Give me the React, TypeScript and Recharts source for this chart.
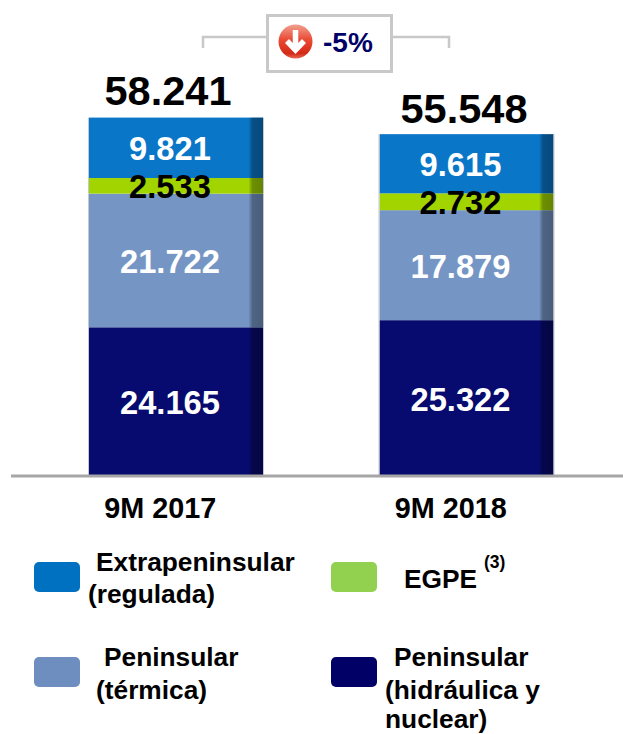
import React from 'react';
import { BarChart, Bar, XAxis, YAxis, LabelList } from 'recharts';

const periods = ['9M 2017', '9M 2018'];
const hidraulica = [24165, 25322];
const termica = [21722, 17879];
const egpe = [2533, 2732];
const extrapeninsular = [9821, 9615];
const totals = [58241, 55548];

const data = periods.map((period, i) => ({
  period,
  hidraulica: hidraulica[i],
  termica: termica[i],
  egpe: egpe[i],
  extrapeninsular: extrapeninsular[i],
}));

const FONT = '"Liberation Sans", Arial, sans-serif';

const fmt = (v: number) => v.toLocaleString('de-DE');

// bar with the darker strip on its right side
const ShadedBar = (props: any) => {
  const { x, y, width, height, fill } = props;
  return (
    <g>
      <rect x={x} y={y} width={width} height={height} fill={fill} />
      <rect x={x + width - 14} y={y} width={14} height={height} fill="url(#barStrip)" />
      <rect x={x - 1} y={y} width={1} height={height} fill="#c4c8d0" />
      <rect x={x + width} y={y} width={1} height={height} fill="#c4c8d0" />
    </g>
  );
};

const segmentLabel = (color: string) => (props: any) => {
  const { x, y, width, height, value } = props;
  return (
    <text
      x={x + width / 2 - 6}
      y={y + height / 2 + 12.5}
      textAnchor="middle"
      fontFamily={FONT}
      fontWeight="bold"
      fontSize={32.7}
      fill={color}
    >
      {fmt(value)}
    </text>
  );
};

const totalLabel = (props: any) => {
  const { x, y, width, index } = props;
  return (
    <text
      x={x + width / 2 - (index === 0 ? 8 : 2.5)}
      y={y - (index === 0 ? 13 : 11)}
      textAnchor="middle"
      fontFamily={FONT}
      fontWeight="bold"
      fontSize={41.5}
      fill="#000"
    >
      {fmt(totals[index])}
    </text>
  );
};

const PeriodTick = (props: any) => {
  const { x, y, payload } = props;
  return (
    <text
      x={x - 16}
      y={y + 34}
      textAnchor="middle"
      fontFamily={FONT}
      fontWeight="bold"
      fontSize={28.8}
      fill="#000"
    >
      {payload.value}
    </text>
  );
};

const legendItems = [
  { color: '#0070c0', x: 34, y: 562, lines: [['Extrapeninsular', 96, 571], ['(regulada)', 88, 603]] },
  { color: '#92d050', x: 331, y: 562, lines: [['EGPE', 404, 588]] },
  { color: '#6d8ebf', x: 34, y: 657, lines: [['Peninsular', 104, 666], ['(térmica)', 96, 699]] },
  { color: '#000066', x: 331, y: 657, lines: [['Peninsular', 394, 666], ['(hidráulica y', 385, 699], ['nuclear)', 385, 728]] },
];

const Overlay = () => (
  <svg width={623} height={734} style={{ position: 'absolute', left: 0, top: 0, pointerEvents: 'none' }}>
    <defs>
      <linearGradient id="redBall" x1="0" y1="0" x2="0" y2="1">
        <stop offset="0" stopColor="#f0a090" />
        <stop offset="0.45" stopColor="#ea4a35" />
        <stop offset="0.85" stopColor="#d42a18" />
        <stop offset="1" stopColor="#e86a55" />
      </linearGradient>
    </defs>
    <path d="M203 48V37H266M392 37H449V48" fill="none" stroke="#c8c8c8" strokeWidth={2.5} />
    <rect x={267.5} y={15.5} width={124} height={56} fill="#fff" stroke="#c8c8c8" strokeWidth={3} />
    <circle cx={295.5} cy={41.5} r={17} fill="url(#redBall)" />
    <path d="M295.5 30V50M287 41L295.5 50L304 41" fill="none" stroke="#fff" strokeWidth={5.5} />
    <text x={323} y={52} fontFamily={FONT} fontWeight="bold" fontSize={28} fill="#000066">-5%</text>
    {legendItems.map((item) => (
      <g key={item.color}>
        <rect x={item.x} y={item.y} width={46} height={30} rx={5} fill={item.color} />
        {item.lines.map(([text, x, y]) => (
          <text key={text as string} x={x as number} y={y as number} fontFamily={FONT} fontWeight="bold" fontSize={26.3} fill="#000">
            {text}
          </text>
        ))}
      </g>
    ))}
    <text x={484} y={568} fontFamily={FONT} fontWeight="bold" fontSize={17.5} fill="#000">(3)</text>
  </svg>
);

export default function App() {
  return (
    <div style={{ position: 'absolute', left: 0, top: 0, width: 623, height: 734 }}>
      <BarChart
        width={623}
        height={734}
        data={data}
        barSize={174}
        margin={{ top: 76, right: 0, bottom: 0, left: 11 }}
      >
        <defs>
          <linearGradient id="barStrip" x1="0" y1="0" x2="1" y2="0">
            <stop offset="0" stopColor="#000" stopOpacity={0.05} />
            <stop offset="0.25" stopColor="#000" stopOpacity={0.33} />
            <stop offset="1" stopColor="#000" stopOpacity={0.38} />
          </linearGradient>
        </defs>
        <XAxis
          dataKey="period"
          padding={{ left: 20, right: 11 }}
          height={258}
          axisLine={{ stroke: '#a6a6a6', strokeWidth: 3 }}
          tickLine={false}
          tick={<PeriodTick />}
          interval={0}
        />
        <YAxis hide domain={[0, 65000]} />
        <Bar dataKey="hidraulica" stackId="a" fill="#070a6e" isAnimationActive={false} shape={<ShadedBar />}>
          <LabelList dataKey="hidraulica" content={segmentLabel('#fff')} />
        </Bar>
        <Bar dataKey="termica" stackId="a" fill="#7596c4" isAnimationActive={false} shape={<ShadedBar />}>
          <LabelList dataKey="termica" content={segmentLabel('#fff')} />
        </Bar>
        <Bar dataKey="egpe" stackId="a" fill="#a2d500" isAnimationActive={false} shape={<ShadedBar />}>
          <LabelList dataKey="egpe" content={segmentLabel('#000')} />
        </Bar>
        <Bar dataKey="extrapeninsular" stackId="a" fill="#0a76c8" isAnimationActive={false} shape={<ShadedBar />}>
          <LabelList dataKey="extrapeninsular" content={segmentLabel('#fff')} />
          <LabelList dataKey="extrapeninsular" content={totalLabel} />
        </Bar>
      </BarChart>
      <Overlay />
    </div>
  );
}
